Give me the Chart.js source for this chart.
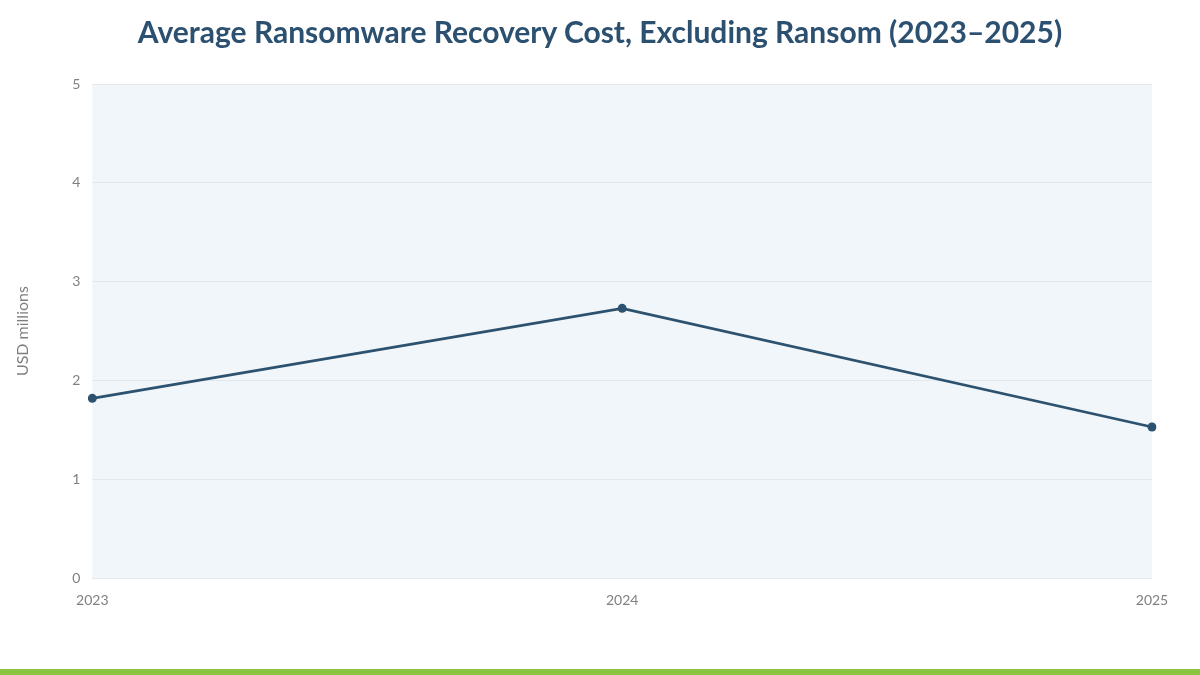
<!DOCTYPE html>
<html>
<head>
<meta charset="utf-8">
<script src="https://cdn.jsdelivr.net/npm/chart.js@4"></script>
<style>
  html, body { margin: 0; padding: 0; background: #ffffff; }
  body { width: 1200px; height: 675px; position: relative; overflow: hidden; }
  #title {
    position: absolute; left: 0; top: 13px; width: 1200px; height: 36px;
    line-height: 36px; text-align: center; margin: 0;
    font-family: Lato, sans-serif; font-weight: bold; font-size: 30px; color: #2c5070;
  }
  #wrap { position: absolute; left: 0; top: 0; width: 1200px; height: 668px; }
  #bar { position: absolute; left: 0; bottom: 0; width: 1200px; height: 6px; background: #8bc540; }
</style>
</head>
<body>
<div id="wrap"><canvas id="lineChart"></canvas></div>
<h1 id="title">Average Ransomware Recovery Cost, Excluding Ransom (2023–2025)</h1>
<div id="bar"></div>
<script>
const YEARS = ['2023', '2024', '2025'];
const RECOVERY_COST = [1.82, 2.73, 1.53];  // USD millions
const Y_TICKS = [0, 1, 2, 3, 4, 5];

// paint the plot area background
const plotBg = {
  id: 'plotBg',
  beforeDraw(chart) {
    const a = chart.chartArea;
    const c = chart.ctx;
    c.save();
    c.fillStyle = '#f0f6f9';
    c.fillRect(a.left, a.top, a.right - a.left, a.bottom - a.top);
    c.restore();
  }
};

const ctx = document.getElementById('lineChart');
new Chart(ctx, {
  type: 'line',
  data: {
    labels: YEARS,
    datasets: [{
      data: RECOVERY_COST,
      borderColor: '#2d5270',
      backgroundColor: '#2d5270',
      borderWidth: 2.75,
      pointRadius: 4.5,
      pointBackgroundColor: '#2d5270',
      pointBorderWidth: 0,
      tension: 0
    }]
  },
  options: {
    responsive: true,
    maintainAspectRatio: false,
    animation: false,
    layout: { padding: { top: 84, right: 48, bottom: 53, left: 13 } },
    plugins: {
      legend: { display: false },
      tooltip: { enabled: false },
      title: { display: false }
    },
    scales: {
      x: {
        offset: false,
        grid: { display: false },
        border: { display: false },
        ticks: { color: '#808080', font: { family: 'Lato', size: 14 }, padding: 6, maxRotation: 0 }
      },
      y: {
        min: 0,
        max: 5,
        afterBuildTicks: axis => { axis.ticks = Y_TICKS.map(v => ({ value: v })); },
        grid: { color: '#e2e9ee', lineWidth: 1, drawTicks: false },
        border: { display: false },
        ticks: { color: '#808080', font: { family: 'Lato', size: 14 }, padding: 12 },
        title: {
          display: true,
          text: 'USD millions',
          color: '#808080',
          font: { family: 'Lato', size: 16 },
          padding: { top: 0, bottom: 28 }
        }
      }
    }
  },
  plugins: [plotBg]
});
</script>
</body>
</html>
